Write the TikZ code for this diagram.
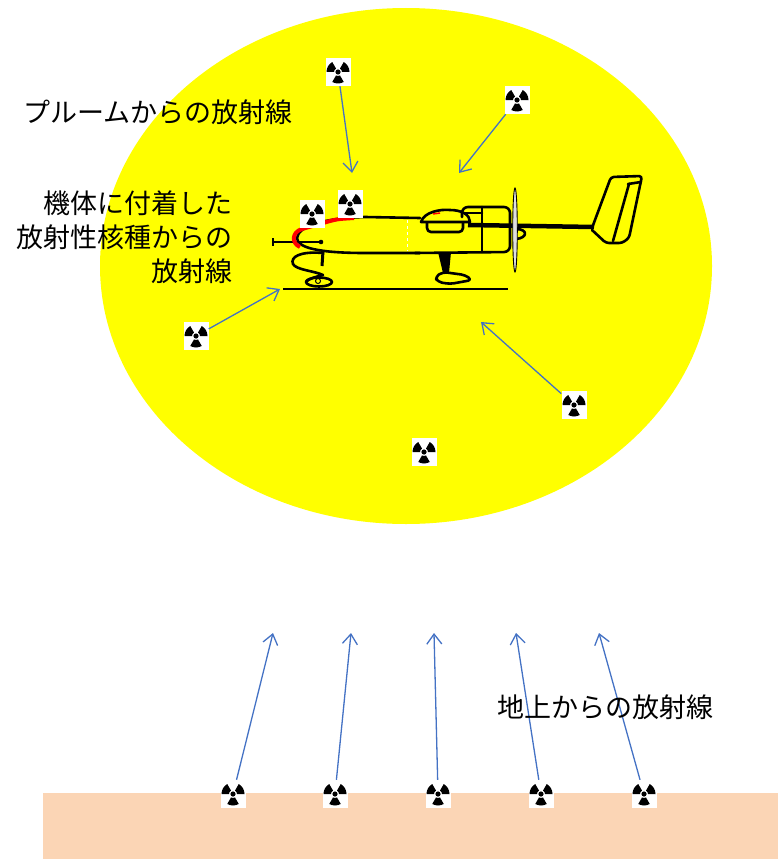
\documentclass[tikz,border=0pt]{standalone}
\usepackage{fontspec}
\setmainfont{Noto Sans CJK JP}
\usetikzlibrary{arrows.meta}
\definecolor{plumeyellow}{RGB}{255,255,0}
\definecolor{soilpeach}{RGB}{251,213,181}
\definecolor{rayblue}{RGB}{68,114,196}
\tikzset{
    rad-symbol/.style = {fill=white, minimum width=25pt, minimum height=28pt, inner sep=0pt,
        path picture={
            \fill[black] (path picture bounding box.center) circle[radius=2.6pt];
            \foreach \a in {0,120,240}
                \fill[black, shift={(path picture bounding box.center)}]
                    (\a:4pt) arc[start angle=\a, end angle=\a+60, radius=4pt]
                    -- (\a+60:11.5pt) arc[start angle=\a+60, end angle=\a, radius=11.5pt] -- cycle;
        }},
    ray-arrow/.style = {draw=rayblue, line width=1.3pt, -{Straight Barb[length=10pt, width=15pt]}},
    jp-text/.style = {font=\fontsize{27}{34}\selectfont, inner sep=0pt},
    plane-line/.style = {draw=black, line width=2.6pt, line join=round, line cap=round},
}

\begin{document}
\begin{tikzpicture}[x=1pt, y=-1pt]
\useasboundingbox (0,0) rectangle (778,859);

% plume and ground
\fill[plumeyellow] (406,266) ellipse[x radius=306, y radius=258];
\fill[soilpeach] (43,793) rectangle (778,859);

% aircraft
\draw[line width=2pt] (283,289) -- (508,289);
\draw[plane-line] (420,218) -- (365,217) .. controls (325,218) and (298,226) .. (297,238)
    .. controls (297,248) and (320,253) .. (365,253) -- (420,253);
\draw[plane-line, rounded corners=6pt] (462,217) -- (462,207) -- (510,207) -- (510,252) -- (415,253);
\draw[plane-line] (482,207) -- (482,252);
\draw[plane-line] (462,213) -- (482,213);
\draw[white, dashed, line width=1pt] (407,220) -- (407,251);
\draw[plane-line] (421,222) .. controls (424,212) and (440,209) .. (450,210)
    .. controls (462,210) and (470,215) .. (470,222) -- cycle;
\draw[plane-line, rounded corners=4pt] (427,223) -- (427,232) -- (463,232) -- (463,223);
\draw[red, line width=1.5pt] (433,214) -- (440,213);
\draw[black, line width=4.5pt] (468,225) -- (594,227);
\draw[plane-line] (516,229) .. controls (528,229) and (528,238) .. (516,239);
\draw[line width=0.9pt, fill=white!75!gray] (515,230) ellipse[x radius=2.3, y radius=42];
\draw[plane-line, rounded corners=3pt] (592,228) -- (611,177) -- (642,176) -- (629,238)
    -- (622,243) -- (606,243) -- (592,230);
\draw[plane-line] (628,184) -- (641,182);
\draw[plane-line] (629,184) -- (613,241);
\fill[black] (438,252) -- (451,252) -- (449,273) -- (443,273) -- cycle;
\draw[plane-line, rounded corners=4pt] (435,277) -- (443,272) -- (465,275) -- (472,280)
    -- (450,284) -- (438,282) -- cycle;
\draw[line width=1.6pt] (273,242) -- (322,242);
\draw[line width=2.2pt] (273,238) -- (273,246);
\fill[black] (321,242) circle[radius=2.3];
\draw[line width=3pt] (323,251) -- (322,266);
\draw[plane-line] (323,253) .. controls (300,251) and (290,257) .. (293,264)
    .. controls (296,270) and (315,271) .. (323,275) .. controls (315,277) and (308,279) .. (306,282);
\draw[plane-line] (319,282) ellipse[x radius=13, y radius=4.5];
\draw[line width=1pt] (318,281) circle[radius=2.5];
\draw[red, line width=4pt] (300,247) .. controls (291,243) and (292,232) .. (302,229)
    -- (330,221) .. controls (338,219) .. (354,218);

% sources in the plume and on the airframe
\node[rad-symbol] (plume1) at (338,72) {};
\node[rad-symbol] (plume2) at (517,100) {};
\node[rad-symbol] (plume3) at (196,336) {};
\node[rad-symbol] (plume4) at (574,405) {};
\node[rad-symbol] (plume5) at (424,452) {};
\node[rad-symbol] (body1) at (350,204) {};
\node[rad-symbol] (body2) at (312,214) {};

\coordinate (tip1) at (352,173);
\coordinate (tip2) at (459,173);
\coordinate (tip3) at (280,289);
\coordinate (tip4) at (481,322);
\draw[ray-arrow] (plume1) -- (tip1);
\draw[ray-arrow] (plume2) -- (tip2);
\draw[ray-arrow] (plume3) -- (tip3);
\draw[ray-arrow] (plume4) -- (tip4);

% sources on the ground
\foreach \i/\gx/\tx in {1/233/273, 2/335/351, 3/438/434, 4/541/516, 5/644/599} {
    \node[rad-symbol] (soil\i) at (\gx,794) {};
    \coordinate (up\i) at (\tx,633);
    \draw[ray-arrow] (soil\i) -- (up\i);
}

% captions
\node[jp-text, anchor=west] (plumetext) at (23,112) {プルームからの放射線};
\node[jp-text, anchor=east, align=right] (bodytext) at (233,237) {機体に付着した\\放射性核種からの\\放射線};
\node[jp-text, anchor=west] (soiltext) at (497,707) {地上からの放射線};
\end{tikzpicture}
\end{document}
